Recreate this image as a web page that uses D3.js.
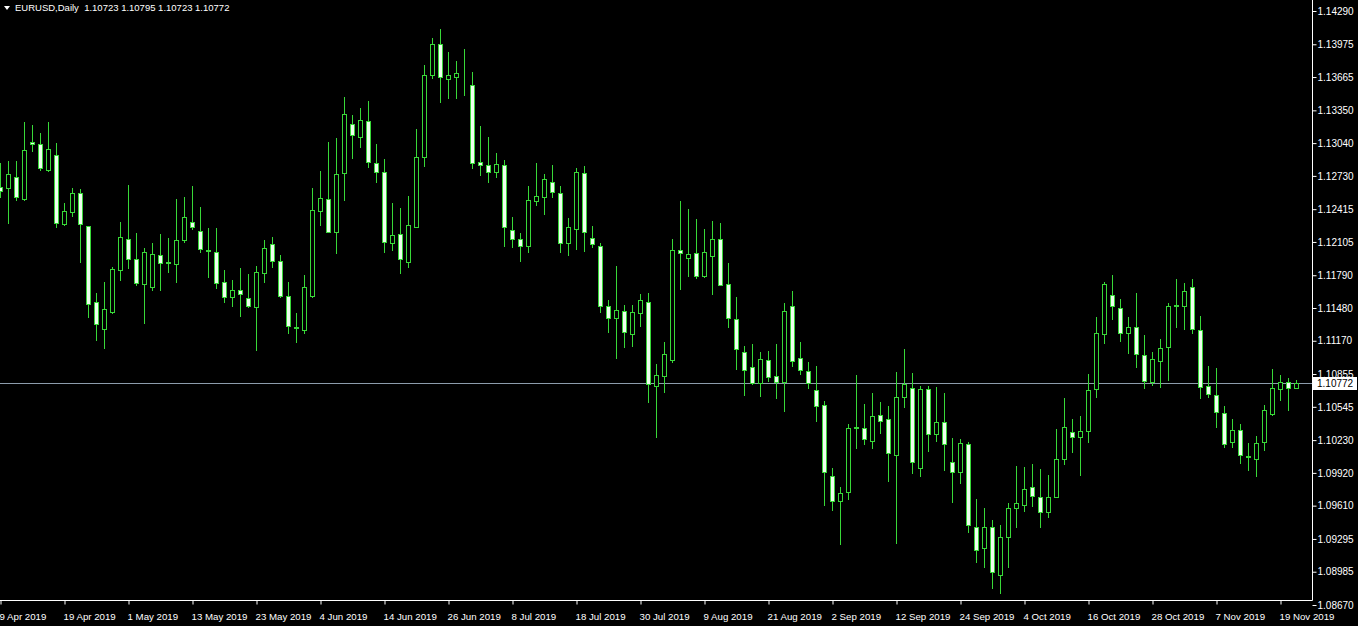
<!DOCTYPE html>
<html>
<head>
<meta charset="utf-8">
<script src="https://cdn.jsdelivr.net/npm/d3@7"></script>
<style>
html, body { margin: 0; padding: 0; background: #000; overflow: hidden; }
svg { display: block; }
text { font-family: "Liberation Sans", Arial, sans-serif; font-size: 10px; fill: #fff; }
</style>
</head>
<body>
<svg id="chart" width="1358" height="626"></svg>
<script>
// EURUSD daily bars, 9 Apr 2019 .. 21 Nov 2019
const symbol = "EURUSD,Daily";
const firstDay = "2019-04-09";

const open = [
1.12625,1.12616,1.12720,1.12511,1.13051,1.13032,1.12786,1.12928,1.12275,1.12388,
1.12568,1.12256,1.11537,1.11282,1.11442,1.11840,1.12133,1.11944,1.11707,1.11679,
1.11982,1.11906,1.11897,1.12124,1.12294,1.12209,1.12029,1.12010,1.11726,1.11584,
1.11651,1.11575,1.11490,1.11811,1.12086,1.11925,1.11594,1.11301,1.11272,1.11594,
1.12398,1.12511,1.12199,1.12757,1.13221,1.13098,1.13249,1.12852,1.12767,1.12095,
1.12180,1.11915,1.12247,1.12909,1.13684,1.13978,1.13647,1.13666,1.13694,1.13590,
1.12861,1.12833,1.12767,1.12833,1.12218,1.12133,1.12067,1.12493,1.12530,1.12672,
1.12568,1.12095,1.12228,1.12757,1.12143,1.12067,1.11499,1.11386,1.11452,1.11234,
1.11433,1.11537,1.10742,1.10837,1.10988,1.12029,1.11953,1.12001,1.11783,1.11972,
1.12133,1.11707,1.11376,1.11064,1.10922,1.10772,1.10988,1.10837,1.10780,1.11499,
1.11007,1.10884,1.10705,1.10563,1.09891,1.09655,1.09740,1.10345,1.10345,1.10222,
1.10468,1.10430,1.10090,1.10638,1.10723,1.09967,1.10714,1.10288,1.10402,1.10023,
1.09929,1.10194,1.09409,1.09210,1.09409,1.08954,1.09314,1.09588,1.09617,1.09787,
1.09692,1.09550,1.09692,1.10052,1.10307,1.10260,1.10317,1.10714,1.11234,1.11603,
1.11480,1.11244,1.11301,1.11036,1.10780,1.10979,1.11111,1.11499,1.11499,1.11679,
1.11272,1.10742,1.10657,1.10487,1.10213,1.10326,1.10071,1.10052,1.10213,1.10478,
1.10714,1.10780,1.10723];

const high = [
1.12852,1.12871,1.12871,1.13240,1.13211,1.13136,1.13240,1.13041,1.12474,1.12616,
1.12606,1.12256,1.11622,1.11726,1.11868,1.12294,1.12644,1.12190,1.12048,1.12095,
1.12180,1.12143,1.12511,1.12530,1.12634,1.12436,1.12237,1.12237,1.11840,1.11745,
1.11859,1.11802,1.11878,1.12124,1.12152,1.11982,1.11726,1.11433,1.11792,1.12616,
1.12776,1.13051,1.13089,1.13476,1.13306,1.13372,1.13439,1.13032,1.12890,1.12474,
1.12426,1.12540,1.13174,1.13779,1.14035,1.14120,1.13902,1.13817,1.13930,1.13713,
1.13202,1.13098,1.12947,1.12880,1.12341,1.12190,1.12634,1.12852,1.12748,1.12833,
1.12634,1.12332,1.12805,1.12824,1.12256,1.12095,1.11556,1.11878,1.11509,1.11509,
1.11613,1.11622,1.10951,1.11159,1.12133,1.12493,1.12417,1.12322,1.12228,1.12303,
1.12284,1.11906,1.11584,1.11121,1.11140,1.11064,1.11073,1.11140,1.11528,1.11641,
1.11159,1.10969,1.10932,1.10601,1.09967,1.09787,1.10383,1.10846,1.10572,1.10676,
1.10591,1.10553,1.10875,1.11092,1.10865,1.10742,1.10742,1.10733,1.10676,1.10251,
1.10241,1.10213,1.09673,1.09588,1.09475,1.09427,1.09636,1.09986,1.09976,1.10005,
1.09957,1.09900,1.10336,1.10629,1.10430,1.10459,1.10856,1.11395,1.11726,1.11792,
1.11565,1.11395,1.11622,1.11225,1.11064,1.11187,1.11528,1.11755,1.11717,1.11755,
1.11405,1.10932,1.10913,1.10553,1.10430,1.10383,1.10203,1.10269,1.10563,1.10903,
1.10846,1.10818,1.10795];

const low = [
1.12530,1.12284,1.12502,1.12502,1.12966,1.12786,1.12776,1.12247,1.12265,1.12351,
1.11915,1.11395,1.11178,1.11102,1.11433,1.11745,1.11859,1.11698,1.11338,1.11651,
1.11651,1.11821,1.11726,1.12105,1.12228,1.12010,1.11774,1.11670,1.11537,1.11499,
1.11405,1.11490,1.11083,1.11726,1.11868,1.11584,1.11244,1.11159,1.11244,1.11584,
1.12265,1.12265,1.12001,1.12502,1.12899,1.13003,1.12814,1.12672,1.12010,1.12029,
1.11811,1.11868,1.12247,1.12824,1.13656,1.13429,1.13467,1.13467,1.13495,1.12805,
1.12738,1.12672,1.12720,1.12067,1.12057,1.11925,1.12010,1.12455,1.12370,1.12530,
1.12010,1.11982,1.12038,1.12020,1.12057,1.11442,1.11253,1.11007,1.11111,1.11121,
1.11310,1.10591,1.10260,1.10686,1.10969,1.11660,1.11783,1.11764,1.11774,1.11613,
1.11698,1.11301,1.10903,1.10657,1.10761,1.10648,1.10790,1.10629,1.10506,1.10932,
1.10856,1.10723,1.10411,1.09617,1.09569,1.09248,1.09673,1.10156,1.10194,1.10156,
1.10298,1.09844,1.09257,1.10544,1.09919,1.09891,1.10128,1.10222,1.09948,1.09645,
1.09825,1.09361,1.09077,1.09030,1.08832,1.08784,1.09030,1.09409,1.09560,1.09607,
1.09409,1.09503,1.09692,1.10005,1.10118,1.09900,1.10213,1.10638,1.11149,1.11376,
1.11168,1.11055,1.10922,1.10723,1.10752,1.10733,1.10799,1.11301,1.11282,1.11244,
1.10629,1.10638,1.10355,1.10165,1.10165,1.10014,1.09948,1.09891,1.10137,1.10468,
1.10610,1.10515,1.10723];

const close = [
1.12587,1.12748,1.12530,1.12975,1.13032,1.12805,1.12984,1.12284,1.12398,1.12568,
1.12275,1.11518,1.11329,1.11471,1.11849,1.12152,1.11944,1.11717,1.12010,1.11991,
1.11906,1.11915,1.12124,1.12341,1.12247,1.12038,1.12020,1.11717,1.11584,1.11651,
1.11613,1.11499,1.11821,1.12048,1.11925,1.11594,1.11310,1.11291,1.11679,1.12407,
1.12521,1.12199,1.12748,1.13316,1.13117,1.13259,1.12861,1.12767,1.12105,1.12171,
1.11944,1.12265,1.12909,1.13684,1.13978,1.13666,1.13684,1.13703,1.13694,1.12852,
1.12833,1.12767,1.12843,1.12247,1.12133,1.12067,1.12502,1.12540,1.12701,1.12578,
1.12095,1.12247,1.12767,1.12199,1.12086,1.11499,1.11386,1.11461,1.11253,1.11442,
1.11556,1.10761,1.10846,1.11045,1.12029,1.12001,1.11991,1.11783,1.12010,1.12133,
1.11698,1.11386,1.11092,1.10894,1.10772,1.10998,1.10828,1.10780,1.11452,1.10979,
1.10894,1.10772,1.10553,1.09929,1.09655,1.09730,1.10345,1.10350,1.10241,1.10459,
1.10411,1.10109,1.10638,1.10761,1.10023,1.10714,1.10288,1.10402,1.10194,1.09929,
1.10203,1.09427,1.09191,1.09409,1.08983,1.09314,1.09588,1.09636,1.09768,1.09702,
1.09550,1.09692,1.10052,1.10355,1.10260,1.10317,1.10705,1.11244,1.11707,1.11499,
1.11244,1.11301,1.11045,1.10790,1.10998,1.11102,1.11499,1.11505,1.11641,1.11282,
1.10733,1.10667,1.10496,1.10194,1.10326,1.10090,1.10080,1.10203,1.10515,1.10723,
1.10780,1.10723,1.10772];

const priceTicks = [1.14290,1.13975,1.13665,1.13350,1.13040,1.12730,1.12415,1.12105,1.11790,
  1.11480,1.11170,1.10855,1.10545,1.10230,1.09920,1.09610,1.09295,1.08985,1.08670];
const priceMin = 1.08670, priceMax = 1.14290;
const labelEvery = 8;

// trading days Mon..Fri from the first bar
const dates = [];
let day = new Date(firstDay + "T00:00:00Z");
while (dates.length < open.length) {
  let wd = day.getUTCDay();
  if (wd !== 0 && wd !== 6) dates.push(new Date(day));
  day.setUTCDate(day.getUTCDate() + 1);
}
const bars = dates.map((t, i) => ({i: i, t: t, o: open[i], h: high[i], l: low[i], c: close[i]}));
const last = bars[bars.length - 1];

const frameRight = 1312, frameBottom = 600;
const candleGreen = "#38d838";

const svg = d3.select("#chart");
svg.append("rect").attr("width", 1358).attr("height", 626).attr("fill", "#000");

const x = d3.scaleLinear().domain([0, bars.length - 1]).range([0, (bars.length - 1) * 8]);
const y = d3.scaleLinear().domain([priceMin, priceMax]).range([605, 11]);
const py = v => Math.round(y(v));

svg.append("clipPath").attr("id", "plot")
  .append("rect").attr("x", 0).attr("y", 0).attr("width", frameRight).attr("height", frameBottom);

const plot = svg.append("g").attr("clip-path", "url(#plot)");

// current price line
plot.append("line")
  .attr("x1", 0).attr("x2", frameRight)
  .attr("y1", py(last.c) + 0.5).attr("y2", py(last.c) + 0.5)
  .attr("stroke", "#8c9cab").attr("stroke-width", 1);

// wicks
plot.selectAll("line.wick").data(bars).join("line")
  .attr("class", "wick")
  .attr("x1", d => Math.round(x(d.i)) + 0.5)
  .attr("x2", d => Math.round(x(d.i)) + 0.5)
  .attr("y1", d => py(d.h))
  .attr("y2", d => py(d.l) + 1)
  .attr("stroke", candleGreen).attr("stroke-width", 1);

// bodies: bull = black, bear = white
plot.selectAll("rect.body").data(bars).join("rect")
  .attr("class", "body")
  .attr("x", d => Math.round(x(d.i)) - 2 + 0.5)
  .attr("y", d => py(Math.max(d.o, d.c)) + 0.5)
  .attr("width", 4)
  .attr("height", d => py(Math.min(d.o, d.c)) - py(Math.max(d.o, d.c)))
  .attr("fill", d => d.c >= d.o ? "#000" : "#eefeee")
  .attr("stroke", candleGreen).attr("stroke-width", 1);

// frame
svg.append("path")
  .attr("d", `M0,${frameBottom + 0.5}H${frameRight + 0.5}V0`)
  .attr("fill", "none").attr("stroke", "#fff").attr("stroke-width", 1);

// price axis
const yAxis = d3.axisRight(y).tickValues(priceTicks)
  .tickFormat(d3.format(".5f")).tickSize(4).tickPadding(1);
const ga = svg.append("g").attr("transform", `translate(${frameRight + 0.5},0)`).call(yAxis);
ga.select(".domain").remove();
ga.selectAll(".tick line").attr("stroke", "#fff");
ga.selectAll(".tick text").attr("fill", "#fff");
ga.attr("font-family", null).attr("font-size", null);

// time axis
const fmt = d3.utcFormat("%-d %b %Y");
const labelIdx = bars.filter(b => b.i % labelEvery === 0).map(b => b.i);
const xAxis = d3.axisBottom(x).tickValues(labelIdx)
  .tickFormat(i => fmt(dates[i])).tickSize(4).tickPadding(9);
const gx = svg.append("g").attr("transform", `translate(0.5,${frameBottom + 0.5})`).call(xAxis);
gx.select(".domain").remove();
gx.selectAll(".tick line").attr("stroke", "#fff");
gx.selectAll(".tick text").attr("fill", "#fff").attr("text-anchor", "start").attr("x", -1.5)
  .style("font-size", "9.7px");
gx.attr("font-family", null).attr("font-size", null);

// last price marker
const lp = svg.append("g").attr("transform", `translate(${frameRight + 1},${py(last.c)})`);
lp.append("rect").attr("x", 0).attr("y", -6).attr("width", 44).attr("height", 13).attr("fill", "#fff");
lp.append("text").attr("x", 4).attr("y", 4).style("fill", "#000").text(d3.format(".5f")(last.c));

// header
svg.append("path").attr("d", "M4,6H10L7,10Z").attr("fill", "#fff");
svg.append("text").attr("x", 15).attr("y", 11).style("font-size", "9.5px")
  .attr("xml:space", "preserve")
  .text(`${symbol}  ${[last.o, last.h, last.l, last.c].map(d3.format(".5f")).join(" ")}`);
</script>
</body>
</html>
